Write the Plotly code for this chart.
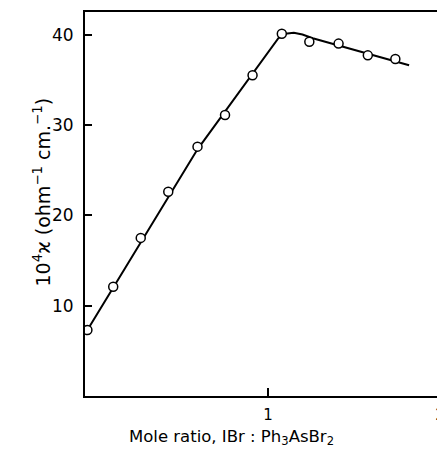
import plotly.graph_objects as go

# measured conductivity points (open circles)
mole_ratio = [-0.05, 0.10, 0.26, 0.42, 0.59, 0.75, 0.91, 1.08, 1.24, 1.41, 1.58, 1.74]
kappa = [7.3, 12.1, 17.5, 22.6, 27.6, 31.1, 35.5, 40.1, 39.2, 39.0, 37.7, 37.3]

# hand-drawn curve through the points
curve_x = [-0.05, 0.59, 1.06, 1.10, 1.15, 1.20, 1.26, 1.82]
curve_y = [7.3, 27.3, 39.6, 40.1, 40.2, 40.0, 39.6, 36.6]

y_ticks = [10, 20, 30, 40]
x_ticks = [1, 2]

font = "DejaVu Sans"

fig = go.Figure()

fig.add_trace(go.Scatter(
    x=curve_x, y=curve_y, mode="lines",
    line=dict(color="black", width=2),
    hoverinfo="skip", showlegend=False
))

fig.add_trace(go.Scatter(
    x=mole_ratio, y=kappa, mode="markers",
    marker=dict(symbol="circle", size=9, color="white",
                line=dict(color="black", width=1.5)),
    showlegend=False
))

# page body adds an 8px offset, so the figure is sized 8px smaller
fig.update_layout(
    width=437, height=442,
    margin=dict(l=77, r=2, t=4, b=54),
    paper_bgcolor="white", plot_bgcolor="white",
    font=dict(family=font, color="black"),
    xaxis=dict(
        range=[-0.064, 2.017], tickvals=x_ticks, ticktext=["1", "2"],
        ticks="inside", ticklen=8, tickwidth=1.5, tickcolor="black",
        showline=True, linecolor="black", linewidth=2, mirror=True,
        showgrid=False, zeroline=False, automargin=False,
        tickfont=dict(size=15), ticklabelstandoff=4
    ),
    yaxis=dict(
        range=[0, 42.5], tickvals=y_ticks,
        ticks="inside", ticklen=7, tickwidth=1.5, tickcolor="black",
        showline=True, linecolor="black", linewidth=2, mirror=True,
        showgrid=False, zeroline=False, automargin=False,
        tickfont=dict(size=17), ticklabelstandoff=6
    ),
    annotations=[
        dict(text="Mole ratio, IBr : Ph<sub>3</sub>AsBr<sub>2</sub>",
             xref="paper", yref="paper", x=0.41, y=-0.107,
             xanchor="center", yanchor="middle", showarrow=False,
             font=dict(size=16.5)),
        dict(text="10<sup>4</sup>ϰ (ohm<sup>−1</sup> cm.<sup>−1</sup>)",
             xref="paper", yref="paper", x=-0.12, y=0.53,
             xanchor="center", yanchor="middle", showarrow=False,
             textangle=-90, font=dict(size=19)),
    ],
)

fig.write_html("out.html")
